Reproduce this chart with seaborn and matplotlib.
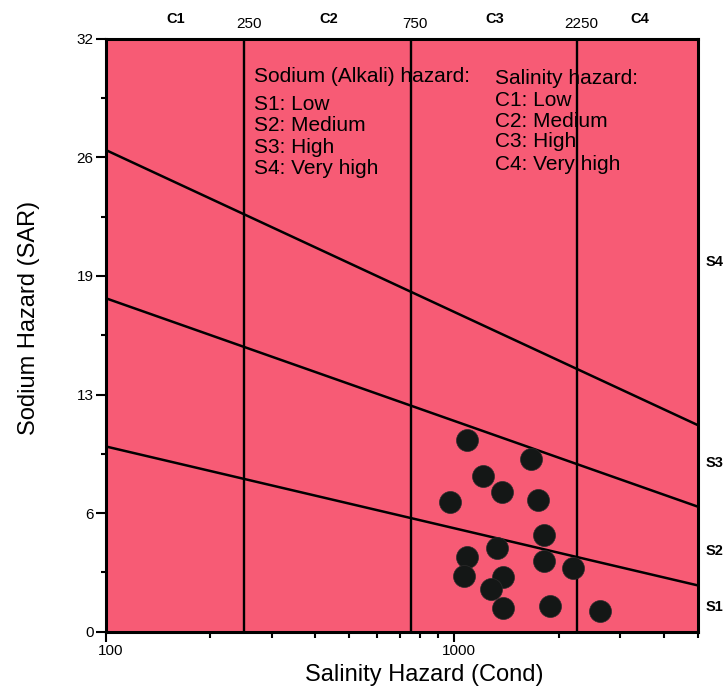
import matplotlib
matplotlib.use("Agg")
import matplotlib.pyplot as plt
import matplotlib.ticker as mticker
import matplotlib.transforms as mtransforms
import numpy as np
import pandas as pd
import seaborn as sns

# sample points (conductivity, SAR)
cond = [1088, 1664, 1210, 1374, 972, 1740, 1814, 1327, 1088,
        1814, 2193, 1069, 1380, 1275, 1380, 1884, 2627]
sar = [10.35, 9.32, 8.42, 7.56, 6.98, 7.11, 5.23, 4.52, 4.05,
       3.82, 3.42, 3.01, 2.94, 2.30, 1.30, 1.39, 1.13]

# salinity class boundaries
c_bounds = [250, 750, 2250]
c_names = ["C1", "C2", "C3", "C4"]
c_label_x = [159, 438, 1312, 3420]

# sodium class boundary lines (left end, right end)
line_x = [100, 5000]
s_lines = {"S1/S2": [10.0, 2.5], "S2/S3": [18.0, 6.75], "S3/S4": [26.0, 11.15]}
s_names = ["S1", "S2", "S3", "S4"]
s_label_y = [1.33, 4.36, 9.1, 19.95]

sodium_text = ["S1: Low", "S2: Medium", "S3: High", "S4: Very high"]
salinity_text = ["C1: Low", "C2: Medium", "C3: High", "C4: Very high"]

sns.set_style("ticks")
plt.rcParams["font.family"] = ["Liberation Sans", "DejaVu Sans"]
for k in ["text.color", "axes.labelcolor", "xtick.color", "ytick.color"]:
    plt.rcParams[k] = "black"

W, H = 728, 687
fig = plt.figure(figsize=(W / 100, H / 100), dpi=100)
ax = fig.add_axes([105.5 / W, 1 - 631.7 / H, (697.7 - 105.5) / W, (631.7 - 38.7) / H])
ax.set_facecolor("#F75B75")

ax.set_xscale("log")
ax.set_xlim(100, 5000)
ax.set_ylim(0, 32)

for b in c_bounds:
    ax.axvline(b, color="black", lw=1.7, zorder=2)

for name, ys in s_lines.items():
    ax.plot(line_x, ys, color="black", lw=1.8, zorder=2)

df = pd.DataFrame({"cond": cond, "sar": sar})
sns.scatterplot(data=df, x="cond", y="sar", ax=ax, s=250, color="#141716",
                edgecolor="#2b2b2b", linewidth=0.5, zorder=3, legend=False)

# ticks
ax.xaxis.set_major_locator(mticker.FixedLocator([100, 1000]))
ax.xaxis.set_major_formatter(mticker.FixedFormatter(["100", "1000"]))
ax.xaxis.set_minor_locator(mticker.LogLocator(base=10, subs=np.arange(2, 10)))
ax.xaxis.set_minor_formatter(mticker.NullFormatter())
ax.yaxis.set_major_locator(mticker.FixedLocator(np.arange(0, 32.1, 6.4)))
ax.yaxis.set_major_formatter(mticker.FormatStrFormatter("%.0f"))
ax.yaxis.set_minor_locator(mticker.FixedLocator(np.arange(3.2, 32, 6.4)))

ax.tick_params(axis="x", which="major", length=7.5, width=1.5, labelsize=11, pad=1, direction="out")
ax.tick_params(axis="x", which="minor", length=4, width=1.5, direction="out")
ax.tick_params(axis="y", which="major", length=7, width=1.5, labelsize=11, pad=1.5, direction="out")
ax.tick_params(axis="y", which="minor", length=3.4, width=1.5, direction="out")

# x tick labels sit a little right of their ticks
shift = mtransforms.ScaledTranslation(5 / 100, 0, fig.dpi_scale_trans)
for lab in ax.get_xticklabels():
    lab.set_transform(lab.get_transform() + shift)

for sp in ax.spines.values():
    sp.set_visible(True)
    sp.set_linewidth(2.2)
    sp.set_color("black")

ax.set_xlabel("Salinity Hazard (Cond)", fontsize=17)
ax.set_ylabel("Sodium Hazard (SAR)", fontsize=17)
ax.xaxis.set_label_coords((424 - 105.5) / 592.2, -(664 - 631.7) / 593)
ax.yaxis.set_label_coords(-(105.5 - 40) / 592.2, (631.7 - 318) / 593)

# class labels on top and right
for name, x in zip(c_names, c_label_x):
    ax.text(x, 1.0 + (38.7 - 19) / 593, name, transform=ax.get_xaxis_transform(),
            fontsize=10.5, fontweight="bold", ha="center", va="center")
for b in c_bounds:
    ax.text(b * 1.03, 1.0 + (38.7 - 24) / 593, str(b), transform=ax.get_xaxis_transform(),
            fontsize=11, ha="center", va="center")
for name, y in zip(s_names, s_label_y):
    ax.text(1.014, y, name, transform=ax.get_yaxis_transform(),
            fontsize=10.5, fontweight="bold", ha="left", va="center")

# hazard legend text
def px(x, y):
    return x / W, 1 - y / H

fig.text(*px(254, 76.7), "Sodium (Alkali) hazard:", fontsize=15, va="center", ha="left")
for t, y in zip(sodium_text, [105, 125.7, 147.7, 168.3]):
    fig.text(*px(254, y), t, fontsize=15, va="center", ha="left")
fig.text(*px(495, 79), "Salinity hazard:", fontsize=15, va="center", ha="left")
for t, y in zip(salinity_text, [100.7, 121.7, 141.7, 164]):
    fig.text(*px(495, y), t, fontsize=15, va="center", ha="left")

fig.savefig("out.png", dpi=100)
